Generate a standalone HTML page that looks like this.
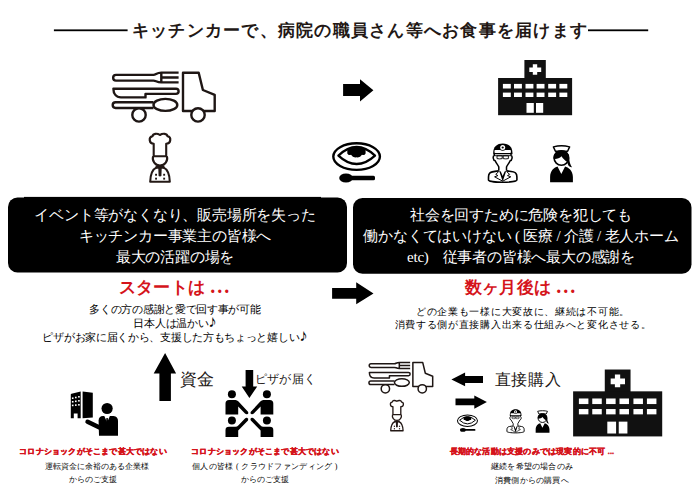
<!DOCTYPE html>
<html lang="ja">
<head>
<meta charset="utf-8">
<style>
html,body{margin:0;padding:0;background:#fff;}
body{width:700px;height:495px;position:relative;overflow:hidden;font-family:"Liberation Serif",serif;color:#231815;}
.t{position:absolute;white-space:nowrap;text-align:center;width:600px;}
.w{color:#fff;}
.r{color:#d5141b;font-weight:bold;}
.g{color:#000;}
.dots{letter-spacing:2.1px;font-size:20px;}
.note{font-size:17px;font-weight:bold;line-height:10px;}
svg{position:absolute;left:0;top:0;}
</style>
</head>
<body>
<svg width="700" height="495" viewBox="0 0 700 495">
  <defs>
    <g id="truck" fill="none" stroke="#1e1614" stroke-width="2.4" stroke-linejoin="round">
      <!-- fork -->
      <path d="M178.6 72.6 L161.3 72.6 C156.5 72.6 156 74.9 153.5 74.9 L116 74.9 A2.85 2.85 0 0 0 116 80.6 L153.5 80.6 C156 80.6 156.5 82.35 161.3 82.35 L178.6 82.35 M161.3 72.6 L161.3 82.35 M161.3 77.5 L178.6 77.5"/>
      <!-- knife -->
      <path d="M145.5 93.9 L176 93.9 A2.6 2.6 0 0 0 176 88.7 L113.4 88.7 C113.4 93.5 116 97.4 121 97.4 L145.5 97.4 Z"/>
      <!-- spoon -->
      <path d="M153.5 102.2 L115.6 102.2 A2.9 2.9 0 0 0 115.6 108 L153.5 108"/>
      <ellipse cx="165.4" cy="104.9" rx="11.9" ry="6"/>
      <!-- body -->
      <path d="M183 111 L183 72.7 L198.7 72.7 L202.9 90 L214.7 94.8 L214.7 111 Z"/>
      <circle cx="139" cy="114.9" r="6.7" fill="#fff"/>
      <circle cx="198" cy="114.9" r="6.7" fill="#fff"/>
    </g>
    <g id="chef">
      <path fill="none" stroke="#231815" stroke-width="2.1" stroke-linejoin="round" d="M153.7 156.2 L153.7 143.7 C149 143.7 148.2 137 152.5 136.3 C153 133.5 157 133 159.9 135 C163 133 167 133.5 167.5 136.3 C171.8 137 171 143.7 166.2 143.7 L166.2 156.2 Z"/>
      <path fill="none" stroke="#231815" stroke-width="2.1" d="M153.1 156.2 A7.2 7.2 0 1 0 166.9 156.2"/>
      <path fill="none" stroke="#231815" stroke-width="2.1" stroke-linejoin="round" d="M156.6 167.4 C152.8 169.2 150.4 174 150.2 181.8 L169.8 181.8 C169.6 174 167.2 169.2 163.4 167.4"/>
      <path fill="#231815" d="M155.6 165.6 L164.4 165.6 L164.4 168.8 L161.7 168.8 L161.4 176 L160 176.6 L158.6 176 L158.3 168.8 L155.6 168.8 Z"/>
      <rect x="155.1" y="173.8" width="1.9" height="1.9" fill="#231815"/>
      <rect x="163.2" y="173.8" width="1.9" height="1.9" fill="#231815"/>
      <rect x="155.1" y="177.7" width="1.9" height="1.9" fill="#231815"/>
      <rect x="163.2" y="177.7" width="1.9" height="1.9" fill="#231815"/>
    </g>
    <g id="plate">
      <ellipse cx="356.6" cy="156.6" rx="23.3" ry="13.3" fill="none" stroke="#000" stroke-width="2.4"/>
      <path d="M338.4 155.6 Q356.6 138.5 375 155.6 Q356.6 172.5 338.4 155.6 Z" fill="none" stroke="#000" stroke-width="2.3" stroke-linejoin="round"/>
      <path d="M347.3 148.5 Q356.5 145 365.6 148.5 L365.6 153.5 Q364.5 155.8 362 154.8 Q360 158 356.5 157.3 Q353 158 351 154.8 Q348.5 155.8 347.3 153.5 Z" fill="#000"/>
      <ellipse cx="346" cy="178" rx="6.8" ry="4.6" fill="#000"/>
      <path d="M350 175.8 H373.5 Q375 175.8 375 177.3 V178.7 Q375 180.2 373.5 180.2 H350 Z" fill="#000"/>
    </g>
    <g id="hosp">
      <rect x="524.4" y="60" width="21.4" height="19" fill="#111"/>
      <rect x="498.1" y="78" width="74" height="37.2" fill="#111"/>
      <path fill="#fff" d="M532.8 64.2 H537.2 V67.5 H541.2 V72.1 H537.2 V74.7 H532.8 V72.1 H529.3 V67.5 H532.8 Z"/>
      <g fill="#fff">
        <rect x="502.9" y="83.9" width="7.9" height="4.6"/><rect x="514" y="83.9" width="7.9" height="4.6"/><rect x="525.5" y="83.9" width="7.9" height="4.6"/><rect x="536.6" y="83.9" width="7.9" height="4.6"/><rect x="548.2" y="83.9" width="7.9" height="4.6"/><rect x="559.4" y="83.9" width="7.9" height="4.6"/>
        <rect x="502.9" y="92.6" width="7.9" height="4.4"/><rect x="514" y="92.6" width="7.9" height="4.4"/><rect x="525.5" y="92.6" width="7.9" height="4.4"/><rect x="536.6" y="92.6" width="7.9" height="4.4"/><rect x="548.2" y="92.6" width="7.9" height="4.4"/><rect x="559.4" y="92.6" width="7.9" height="4.4"/>
        <rect x="526.5" y="103" width="7.3" height="9.8"/><rect x="536" y="103" width="7.2" height="9.8"/>
      </g>
    </g>
    <g id="doctor">
      <path fill="#000" d="M493.2 154.3 C492.8 147 496.5 143.4 502.8 143.4 C509 143.4 512.8 147 512.5 154.3 Z"/>
      <rect x="494.5" y="149.9" width="16.4" height="3.1" rx="0.8" fill="#fff"/>
      <circle cx="502.7" cy="147.5" r="3.3" fill="#000"/>
      <circle cx="502.7" cy="147.5" r="2.5" fill="#fff"/>
      <circle cx="502.7" cy="147.5" r="1.1" fill="#000"/>
      <path fill="none" stroke="#000" stroke-width="1.5" stroke-linejoin="round" d="M494.3 154 L494.3 155.6 C492.6 155.9 492.9 160.3 495.2 160.8 C496.2 163.5 498.4 165.3 498.8 167 L498.8 170.8 M511 154 L511 155.6 C512.7 155.9 512.4 160.3 510.1 160.8 C509.1 163.5 506.9 165.3 506.5 167 L506.5 170.8"/>
      <path fill="none" stroke="#000" stroke-width="0.9" d="M497 155.8 H502.2 V158.6 Q499.6 159.2 497 158.6 Z M503.2 155.8 H508.4 V158.6 Q505.8 159.2 503.2 158.6 Z M494.8 155.7 H510.5"/>
      <path fill="none" stroke="#000" stroke-width="1.6" stroke-linejoin="round" d="M498.6 170.9 C494 171.4 490.6 171.9 489.6 173.2 C488.7 174.3 488.5 176 488.5 177 L488.5 180 C488.5 181.2 495 182.3 502.7 182.3 C510.4 182.3 516.9 181.2 516.9 180 L516.9 177 C516.9 176 516.7 174.3 515.8 173.2 C514.8 171.9 511.4 171.4 506.7 170.9"/>
      <path fill="#000" d="M499.2 171 L502.7 181.5 L506.2 171 L504.6 171.4 L502.7 176 L500.8 171.4 Z"/>
      <path fill="none" stroke="#000" stroke-width="1" stroke-linejoin="round" d="M498.9 171.3 L495.8 174.4 L497.9 175.6 L494.6 176.8 L502.7 181.2 M506.5 171.3 L509.6 174.4 L507.5 175.6 L510.8 176.8 L502.7 181.2"/>
    </g>
    <g id="nurse">
      <path fill="#fff" stroke="#000" stroke-width="1.5" stroke-linejoin="round" d="M553.4 146.9 C558 145.6 565 145.6 569.6 146.9 L567.6 151.3 L555.4 151.3 Z"/>
      <circle cx="561.4" cy="158" r="7.3" fill="#fff" stroke="#000" stroke-width="1.6"/>
      <path fill="#000" d="M553.6 158.8 C553.3 153.8 556.3 150.6 561.4 150.6 C566.4 150.6 569.2 153.6 569.1 157.8 C569.3 161.8 570.3 164.6 572 167.2 C569.3 167.5 567.6 165.2 567.3 161.8 C565.4 160.8 562.8 158.6 561.5 156.2 C559.5 158.3 556.5 159.2 553.6 158.8 Z"/>
      <path fill="#000" d="M550.1 182.2 L550.1 177 C550.1 170.5 554.5 167.2 557.5 166.5 L561.3 174 L565.1 166.5 C568.1 167.2 572.9 170.5 572.9 177 L572.9 182.2 Z"/>
    </g>
  </defs>

  <!-- title rules -->
  <rect x="53.9" y="29.4" width="73.7" height="1.8" fill="#000"/>
  <rect x="588" y="29.4" width="60.2" height="1.8" fill="#000"/>

  <use href="#truck"/>
  <use href="#chef"/>
  <!-- arrow right top -->
  <path d="M343.1 84 H360 V79.2 L373.4 90.3 L360 101.5 V95.9 H343.1 Z" fill="#000"/>
  <use href="#plate"/>
  <use href="#hosp"/>
  <use href="#doctor"/>
  <use href="#nurse"/>

  <!-- black boxes -->
  <rect x="8" y="197.5" width="339" height="75.1" rx="9.5" fill="#000"/>
  <rect x="24" y="196.9" width="297" height="3" fill="#000"/>
  <rect x="353" y="198" width="338.5" height="75.8" rx="9.5" fill="#000"/>

  <!-- middle arrow -->
  <path d="M332.1 288 H356.2 V282.3 L373.5 293.4 L356.2 304.3 V298.8 H332.1 Z" fill="#000"/>

  <!-- up arrow -->
  <path d="M165.1 353 L176.1 373.6 H170.9 V401 H159.4 V373.6 H153.7 Z" fill="#000"/>
  <!-- down arrow -->
  <path d="M245.6 370.1 H253.2 V386.4 H257.2 L249.4 398 L241.7 386.4 H245.6 Z" fill="#000"/>

  <!-- building + businessman -->
  <g fill="#000">
    <path d="M70.8 94.8 L80.7 91.8 L80.7 418.2 Z" opacity="0"/>
    <path d="M70.8 394.6 Q70.8 394 71.5 393.8 L80.7 391.5 L80.7 418.2 L77.6 418.2 L77.6 413.5 L73.8 413.5 L73.8 418.2 L70.8 418.2 Z"/>
    <path d="M82.6 391.5 L92.8 392.7 L92.8 417.6 L82.6 418.2 Z"/>
    <circle cx="107.1" cy="408.5" r="5.6"/>
    <path d="M98.6 420.5 Q98.8 416.2 103 416 L113.5 416 Q118 416.3 118 421 L118 435.8 L99 435.8 Z"/>
    <path d="M87.6 421.8 L99.5 427.5" stroke="#000" stroke-width="4.6" stroke-linecap="round"/>
  </g>
  <g fill="#fff">
    <rect x="71.9" y="397.4" width="1.6" height="1.6"/><rect x="75" y="396.7" width="1.6" height="1.6"/><rect x="78.1" y="396" width="1.6" height="1.6"/>
    <rect x="71.9" y="401" width="1.6" height="1.6"/><rect x="75" y="400.5" width="1.6" height="1.6"/><rect x="78.1" y="400" width="1.6" height="1.6"/>
    <rect x="71.9" y="404.6" width="1.6" height="1.6"/><rect x="75" y="404.3" width="1.6" height="1.6"/><rect x="78.1" y="404" width="1.6" height="1.6"/>
    <path d="M104.3 416 L109.9 416 L107.1 422.2 Z"/>
  </g>
  <path d="M106.4 418 L107.8 418 L108.2 424 L107.1 425.5 L106 424 Z" fill="#000"/>

  <!-- four people -->
  <g fill="#000">
    <circle cx="231.9" cy="394.3" r="4"/>
    <circle cx="266.9" cy="394.3" r="4"/>
    <circle cx="231.9" cy="420.6" r="4"/>
    <circle cx="266.9" cy="420.6" r="4"/>
    <path d="M225.5 414.5 V403.5 Q225.5 400 229 400 L235.5 400 Q237 400 238.5 401.5 L248 411.8 Q249 413.8 247 414.3 Q246 414.5 245 413.5 L238.2 406.5 V414.5 Z"/>
    <path d="M273.3 414.5 V403.5 Q273.3 400 269.8 400 L263.3 400 Q261.8 400 260.3 401.5 L250.8 411.8 Q249.8 413.8 251.8 414.3 Q252.8 414.5 253.8 413.5 L260.6 406.5 V414.5 Z"/>
    <path d="M225.5 437 V430 Q225.5 426.7 229 426.7 L235.5 426.7 Q237 426.7 238.5 425.2 L245 418.5 Q246 417.5 247 417.8 Q249 418.5 248 420.5 L238.2 430.5 V437 Z"/>
    <path d="M273.3 437 V430 Q273.3 426.7 269.8 426.7 L263.3 426.7 Q261.8 426.7 260.3 425.2 L253.8 418.5 Q252.8 417.5 251.8 417.8 Q249.8 418.5 250.8 420.5 L260.6 430.5 V437 Z"/>
  </g>

  <!-- small truck / chef -->
  <use href="#truck" transform="translate(298.5 317) scale(0.625)"/>
  <use href="#chef" transform="translate(296.1 316.2) scale(0.63)"/>
  <!-- left arrow -->
  <path d="M483 376 H465.1 V372.6 L451.4 379.5 L465.1 386.3 V382.9 H483 Z" fill="#000"/>
  <!-- right arrow -->
  <path d="M455.5 398.4 H474.3 V395.4 L486.9 402 L474.3 408.7 V405.3 H455.5 Z" fill="#000"/>
  <use href="#plate" transform="translate(467.3 423) scale(0.43) translate(-356.2 -162)"/>
  <use href="#doctor" transform="translate(515.85 421.35) scale(0.606) translate(-503.2 -163.25)"/>
  <use href="#nurse" transform="translate(542.45 421.45) scale(0.606) translate(-561.3 -163.65)"/>
  <use href="#hosp" transform="translate(-26.6 296.8) scale(1.204 1.212)"/>
</svg>

<!-- title -->
<div class="t" style="left:60px;top:20px;font-size:17px;letter-spacing:1.25px;line-height:22px;font-weight:bold;">キッチンカーで、病院の職員さん等へお食事を届けます</div>

<!-- left box text -->
<div class="t w" style="left:-125px;top:205px;font-size:15px;letter-spacing:-0.2px;line-height:21px;">イベント等がなくなり、販売場所を失った<br>キッチンカー事業主の皆様へ<br>最大の活躍の場を</div>
<!-- right box text -->
<div class="t w" style="left:221px;top:205px;font-size:15px;letter-spacing:-0.2px;line-height:21px;">社会を回すために危険を犯しても<br>働かなくてはいけない ( 医療 / 介護 / 老人ホーム<br>etc)<span style="display:inline-block;width:14px"></span>従事者の皆様へ最大の感謝を</div>

<div class="t r" style="left:-125px;top:275px;font-size:17px;letter-spacing:0.4px;line-height:22px;">スタートは <span class="dots">...</span></div>
<div class="t r" style="left:221px;top:275px;font-size:17px;letter-spacing:0.4px;line-height:22px;">数ヶ月後は <span class="dots">...</span></div>

<div class="t g" style="left:-125px;top:302px;font-size:11px;letter-spacing:-0.3px;line-height:14px;">多くの方の感謝と愛で回す事が可能<br>日本人は温かい<span class="note">♪</span><br>ピザがお家に届くから、支援した方もちょっと嬉しい<span class="note">♪</span></div>
<div class="t g" style="left:223px;top:305px;font-size:10px;letter-spacing:0.7px;line-height:13px;">どの企業も一様に大変故に、継続は不可能。<br>消費する側が直接購入出来る仕組みへと変化させる。</div>

<div class="t" style="left:-102.6px;top:370px;font-size:17px;letter-spacing:0px;line-height:20px;width:600px;">資金</div>
<div class="t" style="left:255px;top:371.5px;font-size:12px;letter-spacing:0.2px;line-height:15px;text-align:left;">ピザが届く</div>
<div class="t" style="left:228px;top:370px;font-size:16px;letter-spacing:0.6px;line-height:20px;">直接購入</div>

<div class="t r" style="left:-207px;top:446px;font-size:8px;letter-spacing:0.2px;line-height:11px;-webkit-text-stroke:0.35px #d5141b;">コロナショックがそこまで甚大ではない</div>
<div class="t g" style="left:-203.5px;top:460px;font-size:8px;line-height:13px;">運転資金に余裕のある企業様</div>
<div class="t g" style="left:-207px;top:473px;font-size:8px;line-height:13px;">からのご支援</div>
<div class="t r" style="left:-35px;top:446px;font-size:8px;letter-spacing:0.2px;line-height:11px;-webkit-text-stroke:0.35px #d5141b;">コロナショックがそこまで甚大ではない</div>
<div class="t g" style="left:-35px;top:460px;font-size:8px;letter-spacing:0.3px;line-height:13px;">個人の皆様 ( クラウドファンディング )</div>
<div class="t g" style="left:-35px;top:473px;font-size:8px;line-height:13px;">からのご支援</div>

<div class="t r" style="left:232px;top:446px;font-size:8px;letter-spacing:0.2px;line-height:11px;-webkit-text-stroke:0.35px #d5141b;">長期的な活動は支援のみでは現実的に不可 ...</div>
<div class="t g" style="left:232px;top:460px;font-size:8px;letter-spacing:0.2px;line-height:14px;">継続を希望の場合のみ<br>消費側からの購買へ</div>
</body>
</html>
